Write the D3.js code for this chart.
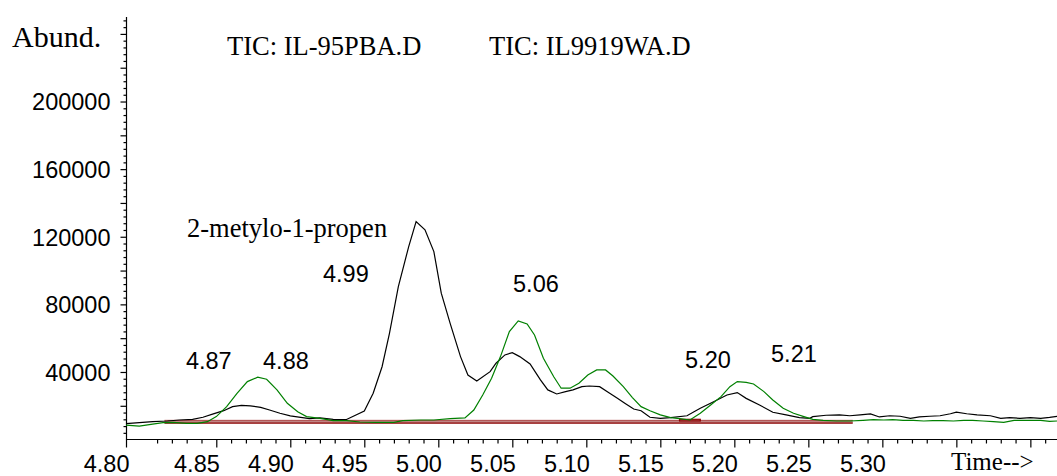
<!DOCTYPE html>
<html>
<head>
<meta charset="utf-8">
<script src="https://d3js.org/d3.v7.min.js"></script>
<style>
  body { margin: 0; background: #fff; }
  svg { display: block; }
  .serif { font-family: "Liberation Serif", "Times New Roman", serif; }
  .sans { font-family: "Liberation Sans", Arial, sans-serif; }
</style>
</head>
<body>
<div id="chart"></div>
<script>
// DATA
var blackTime = [4.789,4.798,4.807,4.817,4.825,4.834,4.841,4.848,4.855,4.861,4.867,4.873,4.880,4.886,4.893,4.900,4.907,4.913,4.920,4.929,4.938,4.950,4.956,4.962,4.967,4.973,4.980,4.985,4.991,4.997,5.002,5.008,5.015,5.020,5.026,5.035,5.039,5.045,5.050,5.055,5.062,5.069,5.074,5.080,5.086,5.091,5.097,5.102,5.109,5.115,5.121,5.126,5.132,5.137,5.143,5.150,5.157,5.168,5.177,5.186,5.195,5.202,5.208,5.217,5.226,5.235,5.244,5.251,5.253,5.262,5.271,5.278,5.285,5.292,5.298,5.305,5.312,5.319,5.325,5.332,5.339,5.346,5.350,5.357,5.364,5.373,5.380,5.386,5.393,5.400,5.407,5.413,5.418];
var blackAbund = [9500,10000,10600,11000,11600,12000,13200,15200,17100,19500,20300,19900,19100,17500,15600,14000,13200,12400,12800,12000,11900,16900,27400,43100,62900,90500,114200,129000,124100,111200,86600,68800,49100,38200,34700,40200,45200,50100,51400,49100,44700,35300,29400,27000,28400,29400,31300,31700,31300,27800,24400,21500,18100,17100,13200,12600,13000,14100,18500,22400,26400,27800,24400,20500,16200,14600,13000,12600,13600,14400,14600,14100,14600,15200,13400,14100,13800,12600,13400,13800,14100,15300,16200,15300,14600,14100,12600,13000,12600,13000,12600,13200,13800];

var greenTime = [4.789,4.798,4.807,4.814,4.821,4.830,4.837,4.844,4.850,4.857,4.864,4.871,4.878,4.884,4.891,4.898,4.905,4.911,4.920,4.929,4.938,4.947,4.958,4.970,4.976,4.988,4.997,5.008,5.018,5.024,5.030,5.036,5.042,5.048,5.054,5.060,5.065,5.071,5.078,5.083,5.089,5.095,5.101,5.107,5.113,5.118,5.125,5.131,5.137,5.143,5.150,5.157,5.163,5.170,5.177,5.184,5.191,5.197,5.202,5.208,5.213,5.220,5.226,5.233,5.240,5.247,5.253,5.260,5.269,5.278,5.287,5.294,5.301,5.307,5.314,5.321,5.328,5.334,5.341,5.348,5.355,5.361,5.368,5.375,5.382,5.389,5.397,5.407,5.413,5.418];
var greenAbund = [8600,8000,9200,10000,10200,9600,9600,10600,13600,19500,27400,34300,36900,35700,29400,21500,16500,13600,12600,11200,11200,10400,10200,10200,11200,11600,11600,12400,12800,17500,26400,36300,49100,63900,70200,68400,61900,48100,37200,30400,30400,33300,38200,41200,41200,37600,31300,25000,19500,17100,14600,13000,12400,11600,15600,20500,25400,31300,34300,33900,32900,28400,23400,18500,15600,13600,12000,11400,11000,11000,11400,11800,11600,11800,11400,11400,11000,11200,11200,11000,11400,11400,11000,10600,10200,11400,11400,11400,10800,11000];

// integration baseline (band + small step box)
var baseTime = [4.815, 5.280];
var baseLow = [9800, 9800];
var baseHigh = [11400, 11400];
var stepTime = [5.163, 5.177];
var stepAbund = [11000, 12000];

var yTickValues = [40000, 80000, 120000, 160000, 200000];
var xTickValues = [4.789, 4.85, 4.90, 4.95, 5.00, 5.05, 5.10, 5.15, 5.20, 5.25, 5.30, 5.35, 5.40];
var xTickLabels = ["4.80", "4.85", "4.90", "4.95", "5.00", "5.05", "5.10", "5.15", "5.20", "5.25", "5.30", "", ""];

var peakLabels = ["4.87", "4.88", "4.99", "5.06", "5.20", "5.21"];
var peakTime = [4.8295, 4.8816, 4.9221, 5.0505, 5.1667, 5.2248];
var peakAbund = [41800, 41800, 93300, 87400, 42400, 45900];

var fileNames = ["TIC: IL-95PBA.D", "TIC: IL9919WA.D"];

var width = 1057, height = 476;

var svg = d3.select('#chart').append('svg')
	.attr('width', width)
	.attr('height', height);

var x = d3.scaleLinear().domain([4.789, 5.418]).range([126, 1057]);
var y = d3.scaleLinear().domain([0, 250000]).range([439.6, 17]);

//MINOR TICKS
var xMinor = d3.range(4.80, 5.415, 0.01).filter(function(d) {
	return Math.abs(Math.round(d * 100) % 5) > 0.001;
});
svg.append('g')
	.attr('transform', 'translate(0,439.5)')
	.call(d3.axisBottom(x).tickValues(xMinor).tickSize(4).tickSizeOuter(0).tickFormat(''))
	.call(function(g) { g.select('.domain').remove(); });

var yMinor = d3.range(4000, 250000, 4000).filter(function(d) { return d % 20000 !== 0; });
svg.append('g')
	.attr('transform', 'translate(126.5,0)')
	.call(d3.axisLeft(y).tickValues(yMinor).tickSize(3).tickSizeOuter(0).tickFormat(''))
	.call(function(g) { g.select('.domain').remove(); });

svg.append('g')
	.attr('transform', 'translate(126.5,0)')
	.call(d3.axisLeft(y).tickValues(d3.range(20000, 250000, 20000)).tickSize(6).tickSizeOuter(0).tickFormat(''))
	.call(function(g) { g.select('.domain').remove(); });

//MAIN AXES
var xAxis = svg.append('g')
	.attr('transform', 'translate(0,439.5)')
	.call(d3.axisBottom(x).tickValues(xTickValues).tickSize(8).tickSizeOuter(0)
		.tickFormat(function(d, i) { return xTickLabels[i]; }));
xAxis.select('.domain').attr('d', 'M126,0H1057');
// labels sit just left of their tick, right aligned
xAxis.selectAll('text')
	.attr('class', 'sans')
	.attr('font-size', 23.5)
	.attr('fill', '#000')
	.attr('text-anchor', 'end')
	.attr('x', 3)
	.attr('y', 32.5)
	.attr('dy', null);

var yAxis = svg.append('g')
	.attr('transform', 'translate(126.5,0)')
	.call(d3.axisLeft(y).tickValues(yTickValues).tickSize(0).tickSizeOuter(0)
		.tickFormat(function(d) { return d; }));
yAxis.select('.domain').attr('d', 'M0,17V440');
yAxis.selectAll('text')
	.attr('class', 'sans')
	.attr('font-size', 23.5)
	.attr('fill', '#000')
	.attr('x', -16)
	.attr('dy', '0.36em');

svg.selectAll('.domain, .tick line').attr('stroke', '#000').attr('stroke-width', 1.2);

//BASELINE BAND
var baseData = baseTime.map(function(t, i) { return { t: t, lo: baseLow[i], hi: baseHigh[i] }; });
svg.append('path')
	.datum(baseData)
	.attr('fill', '#c08484')
	.attr('d', d3.area().x(function(d) { return x(d.t); }).y0(function(d) { return y(d.lo); }).y1(function(d) { return y(d.hi); }));
svg.append('path')
	.datum(baseData)
	.attr('fill', 'none').attr('stroke', '#8b0000').attr('stroke-width', 1.2)
	.attr('d', d3.line().x(function(d) { return x(d.t); }).y(function(d) { return y(d.lo); }));
svg.append('path')
	.datum(baseData)
	.attr('fill', 'none').attr('stroke', '#a23030').attr('stroke-width', 0.8)
	.attr('d', d3.line().x(function(d) { return x(d.t); }).y(function(d) { return y(d.hi); }));
svg.append('rect')
	.attr('x', x(stepTime[0]))
	.attr('y', y(stepAbund[1]))
	.attr('width', x(stepTime[1]) - x(stepTime[0]))
	.attr('height', y(stepAbund[0]) - y(stepAbund[1]))
	.attr('fill', 'none').attr('stroke', '#8b0000').attr('stroke-width', 1.2);

//TRACES
var line = d3.line()
	.x(function(d) { return x(d[0]); })
	.y(function(d) { return y(d[1]); });

svg.append('path')
	.datum(blackTime.map(function(t, i) { return [t, blackAbund[i]]; }))
	.attr('fill', 'none')
	.attr('stroke', '#000')
	.attr('stroke-width', 1.2)
	.attr('d', line);

svg.append('path')
	.datum(greenTime.map(function(t, i) { return [t, greenAbund[i]]; }))
	.attr('fill', 'none')
	.attr('stroke', '#008000')
	.attr('stroke-width', 1.2)
	.attr('d', line);

//TEXT
svg.append('text').attr('class', 'serif')
	.attr('x', 12).attr('y', 47)
	.attr('font-size', 30)
	.text('Abund.');

svg.selectAll('.fname').data(fileNames).enter().append('text')
	.attr('class', 'serif fname')
	.attr('x', function(d, i) { return [227, 489][i]; })
	.attr('y', 55)
	.attr('font-size', 26.5)
	.text(function(d) { return d; });

svg.append('text').attr('class', 'serif')
	.attr('x', x(4.8302)).attr('y', y(119900))
	.attr('font-size', 26.5)
	.text('2-metylo-1-propen');

svg.selectAll('.peak').data(peakLabels).enter().append('text')
	.attr('class', 'sans peak')
	.attr('x', function(d, i) { return x(peakTime[i]); })
	.attr('y', function(d, i) { return y(peakAbund[i]); })
	.attr('font-size', 23.5)
	.text(function(d) { return d; });

svg.append('text').attr('class', 'serif')
	.attr('x', 951).attr('y', 470)
	.attr('font-size', 25)
	.text('Time-->');
</script>
</body>
</html>
